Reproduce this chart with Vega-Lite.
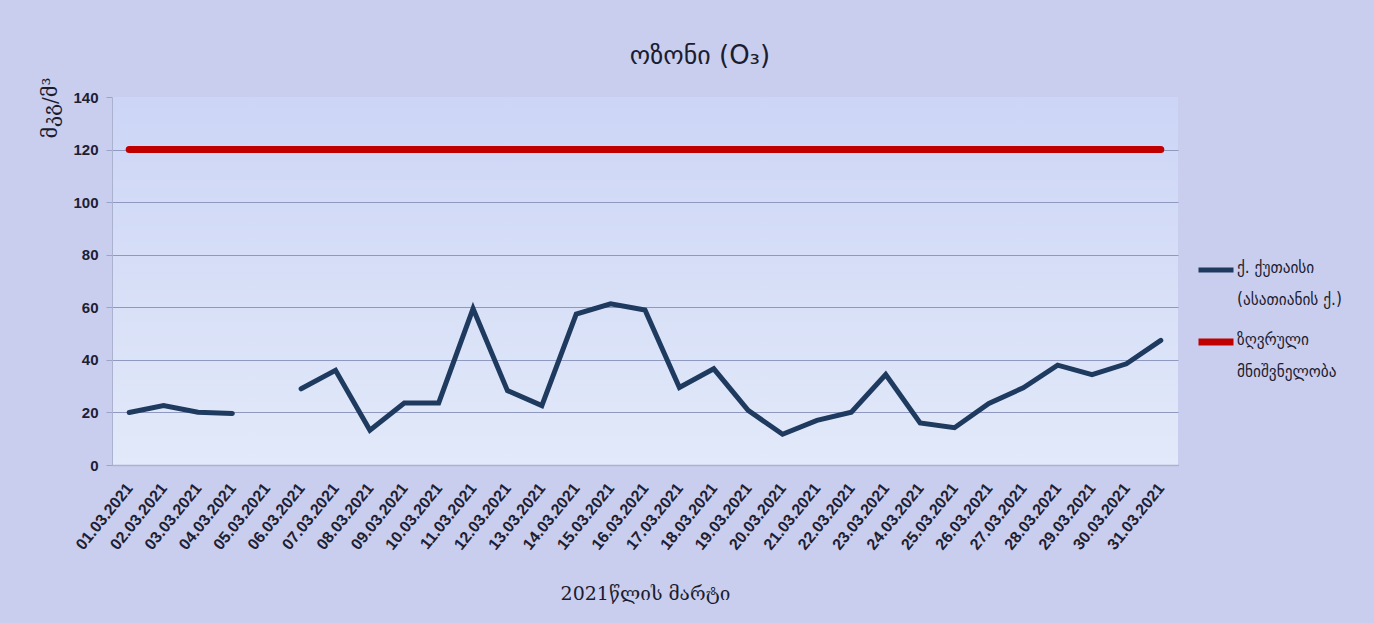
{
  "$schema": "https://vega.github.io/schema/vega-lite/v6.json",
  "width": 1066,
  "height": 368,
  "autosize": {"type": "none"},
  "padding": {"left": 112, "top": 97, "right": 196, "bottom": 158},
  "background": "#c9ceee",
  "title": {
    "text": "ოზონი (O₃)",
    "font": "DejaVu Sans",
    "fontSize": 26,
    "fontWeight": "normal",
    "color": "#1c1c30",
    "anchor": "middle",
    "offset": 8,
    "dx": 55
  },
  "data": {
    "values": [
      {"date": "01.03.2021", "series": "ქ. ქუთაისი (ასათიანის ქ.)", "value": 20},
      {"date": "02.03.2021", "series": "ქ. ქუთაისი (ასათიანის ქ.)", "value": 22.6},
      {"date": "03.03.2021", "series": "ქ. ქუთაისი (ასათიანის ქ.)", "value": 20.1},
      {"date": "04.03.2021", "series": "ქ. ქუთაისი (ასათიანის ქ.)", "value": 19.6},
      {"date": "05.03.2021", "series": "ქ. ქუთაისი (ასათიანის ქ.)", "value": null},
      {"date": "06.03.2021", "series": "ქ. ქუთაისი (ასათიანის ქ.)", "value": 29},
      {"date": "07.03.2021", "series": "ქ. ქუთაისი (ასათიანის ქ.)", "value": 36},
      {"date": "08.03.2021", "series": "ქ. ქუთაისი (ასათიანის ქ.)", "value": 13.2},
      {"date": "09.03.2021", "series": "ქ. ქუთაისი (ასათიანის ქ.)", "value": 23.6},
      {"date": "10.03.2021", "series": "ქ. ქუთაისი (ასათიანის ქ.)", "value": 23.6},
      {"date": "11.03.2021", "series": "ქ. ქუთაისი (ასათიანის ქ.)", "value": 59.5},
      {"date": "12.03.2021", "series": "ქ. ქუთაისი (ასათიანის ქ.)", "value": 28.3},
      {"date": "13.03.2021", "series": "ქ. ქუთაისი (ასათიანის ქ.)", "value": 22.6},
      {"date": "14.03.2021", "series": "ქ. ქუთაისი (ასათიანის ქ.)", "value": 57.4},
      {"date": "15.03.2021", "series": "ქ. ქუთაისი (ასათიანის ქ.)", "value": 61.3},
      {"date": "16.03.2021", "series": "ქ. ქუთაისი (ასათიანის ქ.)", "value": 59},
      {"date": "17.03.2021", "series": "ქ. ქუთაისი (ასათიანის ქ.)", "value": 29.5},
      {"date": "18.03.2021", "series": "ქ. ქუთაისი (ასათიანის ქ.)", "value": 36.6},
      {"date": "19.03.2021", "series": "ქ. ქუთაისი (ასათიანის ქ.)", "value": 20.8},
      {"date": "20.03.2021", "series": "ქ. ქუთაისი (ასათიანის ქ.)", "value": 11.7},
      {"date": "21.03.2021", "series": "ქ. ქუთაისი (ასათიანის ქ.)", "value": 17},
      {"date": "22.03.2021", "series": "ქ. ქუთაისი (ასათიანის ქ.)", "value": 20.1},
      {"date": "23.03.2021", "series": "ქ. ქუთაისი (ასათიანის ქ.)", "value": 34.4},
      {"date": "24.03.2021", "series": "ქ. ქუთაისი (ასათიანის ქ.)", "value": 16},
      {"date": "25.03.2021", "series": "ქ. ქუთაისი (ასათიანის ქ.)", "value": 14.2},
      {"date": "26.03.2021", "series": "ქ. ქუთაისი (ასათიანის ქ.)", "value": 23.4},
      {"date": "27.03.2021", "series": "ქ. ქუთაისი (ასათიანის ქ.)", "value": 29.4},
      {"date": "28.03.2021", "series": "ქ. ქუთაისი (ასათიანის ქ.)", "value": 38},
      {"date": "29.03.2021", "series": "ქ. ქუთაისი (ასათიანის ქ.)", "value": 34.4},
      {"date": "30.03.2021", "series": "ქ. ქუთაისი (ასათიანის ქ.)", "value": 38.5},
      {"date": "31.03.2021", "series": "ქ. ქუთაისი (ასათიანის ქ.)", "value": 47.4},
      {"date": "01.03.2021", "series": "ზღვრული მნიშვნელობა", "value": 120},
      {"date": "02.03.2021", "series": "ზღვრული მნიშვნელობა", "value": 120},
      {"date": "03.03.2021", "series": "ზღვრული მნიშვნელობა", "value": 120},
      {"date": "04.03.2021", "series": "ზღვრული მნიშვნელობა", "value": 120},
      {"date": "05.03.2021", "series": "ზღვრული მნიშვნელობა", "value": 120},
      {"date": "06.03.2021", "series": "ზღვრული მნიშვნელობა", "value": 120},
      {"date": "07.03.2021", "series": "ზღვრული მნიშვნელობა", "value": 120},
      {"date": "08.03.2021", "series": "ზღვრული მნიშვნელობა", "value": 120},
      {"date": "09.03.2021", "series": "ზღვრული მნიშვნელობა", "value": 120},
      {"date": "10.03.2021", "series": "ზღვრული მნიშვნელობა", "value": 120},
      {"date": "11.03.2021", "series": "ზღვრული მნიშვნელობა", "value": 120},
      {"date": "12.03.2021", "series": "ზღვრული მნიშვნელობა", "value": 120},
      {"date": "13.03.2021", "series": "ზღვრული მნიშვნელობა", "value": 120},
      {"date": "14.03.2021", "series": "ზღვრული მნიშვნელობა", "value": 120},
      {"date": "15.03.2021", "series": "ზღვრული მნიშვნელობა", "value": 120},
      {"date": "16.03.2021", "series": "ზღვრული მნიშვნელობა", "value": 120},
      {"date": "17.03.2021", "series": "ზღვრული მნიშვნელობა", "value": 120},
      {"date": "18.03.2021", "series": "ზღვრული მნიშვნელობა", "value": 120},
      {"date": "19.03.2021", "series": "ზღვრული მნიშვნელობა", "value": 120},
      {"date": "20.03.2021", "series": "ზღვრული მნიშვნელობა", "value": 120},
      {"date": "21.03.2021", "series": "ზღვრული მნიშვნელობა", "value": 120},
      {"date": "22.03.2021", "series": "ზღვრული მნიშვნელობა", "value": 120},
      {"date": "23.03.2021", "series": "ზღვრული მნიშვნელობა", "value": 120},
      {"date": "24.03.2021", "series": "ზღვრული მნიშვნელობა", "value": 120},
      {"date": "25.03.2021", "series": "ზღვრული მნიშვნელობა", "value": 120},
      {"date": "26.03.2021", "series": "ზღვრული მნიშვნელობა", "value": 120},
      {"date": "27.03.2021", "series": "ზღვრული მნიშვნელობა", "value": 120},
      {"date": "28.03.2021", "series": "ზღვრული მნიშვნელობა", "value": 120},
      {"date": "29.03.2021", "series": "ზღვრული მნიშვნელობა", "value": 120},
      {"date": "30.03.2021", "series": "ზღვრული მნიშვნელობა", "value": 120},
      {"date": "31.03.2021", "series": "ზღვრული მნიშვნელობა", "value": 120}
    ]
  },
  "mark": {
    "type": "line",
    "strokeCap": "round",
    "strokeJoin": "miter",
    "invalid": "break-paths-show-domains"
  },
  "encoding": {
    "x": {
      "field": "date",
      "type": "ordinal",
      "sort": null,
      "scale": {"type": "point", "padding": 0.5},
      "axis": {
        "title": "2021წლის მარტი",
        "titleFont": "DejaVu Serif",
        "titleFontSize": 19,
        "titleFontWeight": "normal",
        "titleColor": "#1c1c30",
        "titlePadding": 32,
        "labelAngle": -51,
        "labelAlign": "right",
        "labelBaseline": "middle",
        "labelPadding": 20,
        "labelFont": "Liberation Sans Narrow, Liberation Sans",
        "labelFontSize": 16,
        "labelFontWeight": "bold",
        "labelColor": "#1d2033",
        "ticks": false,
        "grid": false,
        "domainColor": "#aab2d0",
        "domainWidth": 1.5
      }
    },
    "y": {
      "field": "value",
      "type": "quantitative",
      "scale": {"domain": [0, 140]},
      "axis": {
        "title": "მკგ/მ³",
        "titleFont": "DejaVu Serif",
        "titleFontSize": 20,
        "titleFontWeight": "normal",
        "titleColor": "#1c1c30",
        "titleAnchor": "end",
        "titleY": -20,
        "titlePadding": 12,
        "values": [0, 20, 40, 60, 80, 100, 120, 140],
        "labelFont": "Liberation Sans Narrow, Liberation Sans",
        "labelFontSize": 15,
        "labelFontWeight": "bold",
        "labelColor": "#1d2033",
        "labelPadding": 8,
        "tickSize": 6,
        "tickColor": "#9aa3c8",
        "domainColor": "#aab2d0",
        "grid": true,
        "gridColor": "#8f98bf",
        "gridWidth": 1,
        "gridOpacity": {"condition": {"test": "datum.value == 140", "value": 0}, "value": 1}
      }
    },
    "color": {
      "field": "series",
      "type": "nominal",
      "scale": {
        "domain": ["ქ. ქუთაისი (ასათიანის ქ.)", "ზღვრული მნიშვნელობა"],
        "range": ["#1f3a5f", "#c00000"]
      },
      "legend": {
        "title": null,
        "orient": "none",
        "legendX": 1083,
        "legendY": 153,
        "symbolType": "stroke",
        "symbolSize": 1225,
        "symbolStrokeWidth": 6,
        "labelExpr": "datum.label == 'ქ. ქუთაისი (ასათიანის ქ.)' ? ['ქ. ქუთაისი', '(ასათიანის ქ.)'] : ['ზღვრული', 'მნიშვნელობა']",
        "labelFont": "DejaVu Sans Condensed, DejaVu Sans",
        "labelFontSize": 17,
        "labelColor": "#1c1c30",
        "labelBaseline": "top",
        "labelOffset": 0,
        "labelLimit": 300,
        "rowPadding": 13,
        "encoding": {
          "labels": {
            "lineHeight": {"value": 32},
            "dy": {"value": -10}
          }
        }
      }
    },
    "strokeWidth": {
      "field": "series",
      "type": "nominal",
      "scale": {
        "domain": ["ქ. ქუთაისი (ასათიანის ქ.)", "ზღვრული მნიშვნელობა"],
        "range": [5, 7]
      },
      "legend": null
    }
  },
  "config": {
    "view": {
      "stroke": null,
      "fill": {
        "gradient": "linear",
        "x1": 0, "y1": 0, "x2": 0, "y2": 1,
        "stops": [
          {"offset": 0, "color": "#ccd5f6"},
          {"offset": 1, "color": "#e2e9f9"}
        ]
      }
    }
  }
}
